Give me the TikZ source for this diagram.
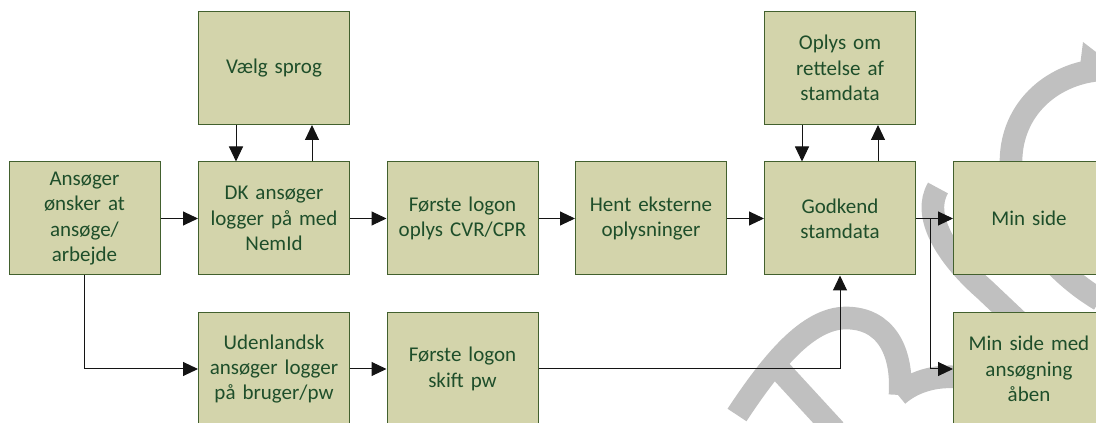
\documentclass[tikz,border=0pt]{standalone}
\usepackage{fontspec}
\setmainfont{Carlito}
\usetikzlibrary{arrows.meta,calc}

\definecolor{boxfill}{RGB}{211,212,171}
\definecolor{boxline}{RGB}{66,96,46}
\definecolor{boxtext}{RGB}{30,78,42}
\definecolor{wmark}{RGB}{192,192,192}
\definecolor{linkgray}{RGB}{20,20,20}

\tikzset{
  stepbox/.style={rectangle, draw=boxline, fill=boxfill, line width=0.75pt,
    minimum width=113.25pt, minimum height=84.75pt, inner sep=0pt,
    text width=108pt, align=center, text=boxtext,
    font=\fontsize{15.75}{19}\selectfont},
  link/.style={draw=linkgray, line width=0.75pt,
    -{Triangle[length=11.25pt,width=10.5pt]}},
  wm/.style={draw=wmark, line width=17pt, line cap=butt}
}

\begin{document}
\begin{tikzpicture}[x=0.75pt, y=-0.75pt]
\useasboundingbox (0,0) rectangle (1096,423);
\clip (0,0) rectangle (1096,423);

% watermark strokes in the background
\draw[wm] (737,415) .. controls (772,362) and (808,318) .. (846,318)
          .. controls (885,318) and (903,350) .. (900,395);
\draw[wm] (778,368) -- (835,430);
\draw[wm] (898,395) .. controls (915,380) and (940,374) .. (965,378);
\draw[wm] (938,188) .. controls (922,215) and (945,255) .. (985,290)
          -- (1040,342);
\draw[wm] (1098,70) .. controls (1050,75) and (1012,110) .. (1011,160)
          .. controls (1010,220) and (1050,270) .. (1100,300);
\fill[wmark] (1080,66) -- (1083,42) -- (1096,52) -- (1096,70) -- cycle;

% boxes
\node[stepbox] (ans)   at (84.5,218.5) {Ansøger\\ønsker at\\ansøge/\\arbejde};
\node[stepbox] (dk)    at (274,218.5)  {DK ansøger\\logger på med\\NemId};
\node[stepbox] (vaelg) at (274,68)     {Vælg sprog};
\node[stepbox] (f1)    at (462.5,218.5){Første logon\\oplys CVR/CPR};
\node[stepbox] (hent)  at (651,218.5)  {Hent eksterne\\oplysninger};
\node[stepbox] (god)   at (840,218.5)  {Godkend\\stamdata};
\node[stepbox] (oplys) at (840,68)     {Oplys om\\rettelse af\\stamdata};
\node[stepbox] (min)   at (1029,218.5) {Min side};
\node[stepbox] (minmed) at (1029,369)  {Min side med\\ansøgning\\åben};
\node[stepbox] (uden)  at (274,369)    {Udenlandsk\\ansøger logger\\på bruger/pw};
\node[stepbox] (f2)    at (462.5,369)  {Første logon\\skift pw};

% main flow
\draw[link] (ans) -- (dk);
\draw[link] (dk) -- (f1);
\draw[link] (f1) -- (hent);
\draw[link] (hent) -- (god);
\draw[link] (god) -- (min);
\coordinate (split) at ($(god.east)+(14,0)$);
\draw[link] (split) |- (minmed.west);

% side loops
\draw[link] ($(vaelg.south west)!0.25!(vaelg.south east)$) -- ($(dk.north west)!0.25!(dk.north east)$);
\draw[link] ($(dk.north west)!0.75!(dk.north east)$) -- ($(vaelg.south west)!0.75!(vaelg.south east)$);
\draw[link] ($(oplys.south west)!0.25!(oplys.south east)$) -- ($(god.north west)!0.25!(god.north east)$);
\draw[link] ($(god.north west)!0.75!(god.north east)$) -- ($(oplys.south west)!0.75!(oplys.south east)$);

% foreign applicant path
\draw[link] (ans.south) |- (uden.west);
\draw[link] (uden) -- (f2);
\draw[link] (f2.east) -| (god.south);
\end{tikzpicture}
\end{document}
